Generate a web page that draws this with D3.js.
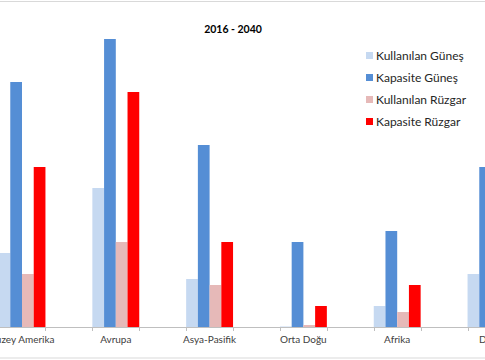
<!DOCTYPE html>
<html>
<head>
<meta charset="utf-8">
<script src="https://cdn.jsdelivr.net/npm/d3@7"></script>
<style>
html,body{margin:0;padding:0;background:#fff;overflow:hidden;}
svg{display:block;}
</style>
</head>
<body>
<svg id="chart" width="485" height="360"></svg>
<script>
const categories = ["Kuzey Amerika", "Avrupa", "Asya-Pasifik", "Orta Doğu", "Afrika", "Diğer"];
const seriesNames = ["Kullanılan Güneş", "Kapasite Güneş", "Kullanılan Rüzgar", "Kapasite Rüzgar"];
const kullanilanGunes = [74, 139, 48, 0.5, 21, 53];
const kapasiteGunes = [245, 288, 182, 85, 96, 160];
const kullanilanRuzgar = [53, 85, 42, 2, 15, 40];
const kapasiteRuzgar = [160, 235, 85, 21, 42, 100];
const seriesColors = ["#c6d9f1", "#558ed5", "#e6b9b8", "#ff0000"];
const title = "2016 - 2040";

const seriesValues = [kullanilanGunes, kapasiteGunes, kullanilanRuzgar, kapasiteRuzgar];
const svg = d3.select("#chart");
const W = 485, H = 360;

svg.append("rect").attr("x", -20).attr("y", 1.5).attr("width", W + 40).attr("height", 356.5)
  .attr("fill", "#fff").attr("stroke", "#d9d9d9").attr("stroke-width", 1);

const step = 93.8;
const x = d3.scaleBand().domain(categories).range([-24.9, -24.9 + step * categories.length]).padding(0);
const xs = d3.scaleBand().domain(seriesNames).range([0, step / 2]).padding(0);
const y = d3.scaleLinear().domain([0, 300]).range([327, 27]);

const g = svg.append("g");
categories.forEach((c, i) => {
  const gx = x(c) + x.bandwidth() / 4;
  seriesNames.forEach((s, j) => {
    const v = seriesValues[j][i];
    g.append("rect")
      .attr("x", gx + xs(s))
      .attr("y", y(v))
      .attr("width", xs.bandwidth())
      .attr("height", y(0) - y(v))
      .attr("fill", seriesColors[j]);
  });
});

const axisY = y(0);
svg.append("line").attr("x1", -30).attr("x2", W + 30).attr("y1", axisY + 0.5).attr("y2", axisY + 0.5)
  .attr("stroke", "#bfbfbf").attr("stroke-width", 1);
categories.forEach(c => {
  const cx = x(c) + x.bandwidth() / 2;
  [cx - x.bandwidth() / 4, cx + x.bandwidth() / 4].forEach(tx => {
    svg.append("line").attr("x1", Math.round(tx) + 0.5).attr("x2", Math.round(tx) + 0.5)
      .attr("y1", axisY).attr("y2", axisY + 4).attr("stroke", "#bfbfbf");
  });
  svg.append("text").attr("x", cx).attr("y", axisY + 16)
    .attr("text-anchor", "middle").attr("font-family", "Lato, 'Open Sans', sans-serif")
    .attr("font-size", "10px").attr("fill", "#404040").text(c);
});

svg.append("text").attr("x", 233).attr("y", 33).attr("text-anchor", "middle")
  .attr("font-family", "Lato, 'Open Sans', sans-serif").attr("font-weight", "bold")
  .attr("font-size", "10.5px").attr("fill", "#000").text(title);

const leg = svg.append("g").attr("transform", "translate(366,0)");
seriesNames.forEach((s, j) => {
  const ly = 56 + j * 22;
  leg.append("rect").attr("x", 0).attr("y", ly - 4).attr("width", 7).attr("height", 7).attr("fill", seriesColors[j]);
  leg.append("text").attr("x", 10).attr("y", ly + 4)
    .attr("font-family", "Lato, 'Open Sans', sans-serif").attr("font-size", "12px")
    .attr("fill", "#262626").text(s);
});
</script>
</body>
</html>
